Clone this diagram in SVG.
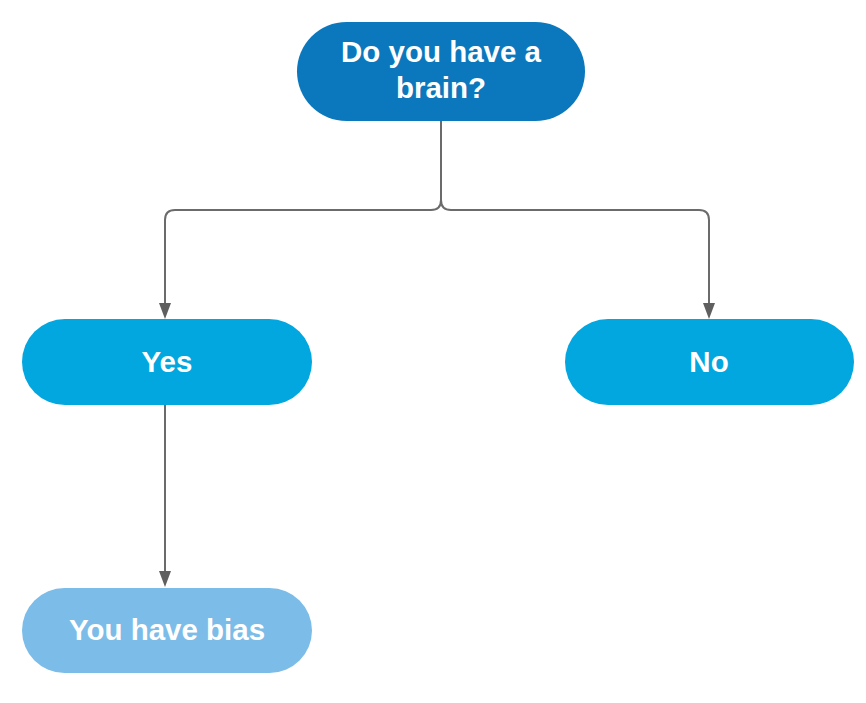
<svg xmlns="http://www.w3.org/2000/svg" width="866" height="703" viewBox="0 0 866 703">
<style>
.lbl{font-family:"Liberation Sans",Arial,sans-serif;font-weight:bold;font-size:29.5px;fill:#ffffff;text-anchor:middle}
.conn{fill:none;stroke:#6b6b6b;stroke-width:2}
.head{fill:#5f5f5f}
</style>
<rect width="866" height="703" fill="#ffffff"/>
<g id="connectors">
<path class="conn" d="M441,121 V200 Q441,210 431,210 H175 Q165,210 165,220 V304"/>
<path class="head" d="M159,303 L171,303 L165,319 Z"/>
<path class="conn" d="M441,121 V200 Q441,210 451,210 H699 Q709,210 709,220 V304"/>
<path class="head" d="M703,303 L715,303 L709,319 Z"/>
<path class="conn" d="M165,405 V572"/>
<path class="head" d="M159,571 L171,571 L165,587 Z"/>
</g>
<g id="node-brain">
<rect x="297" y="22" width="288" height="99" rx="49.5" fill="#0B78BD"/>
<text class="lbl" x="441" y="62">Do you have a</text>
<text class="lbl" x="441" y="98">brain?</text>
</g>
<g id="node-yes">
<rect x="22" y="319" width="290" height="86" rx="43" fill="#02A7E0"/>
<text class="lbl" x="167" y="372">Yes</text>
</g>
<g id="node-no">
<rect x="565" y="319" width="289" height="86" rx="43" fill="#02A7E0"/>
<text class="lbl" x="709" y="372">No</text>
</g>
<g id="node-bias">
<rect x="22" y="588" width="290" height="85" rx="42.5" fill="#7CBCE8"/>
<text class="lbl" x="167" y="640">You have bias</text>
</g>
</svg>
